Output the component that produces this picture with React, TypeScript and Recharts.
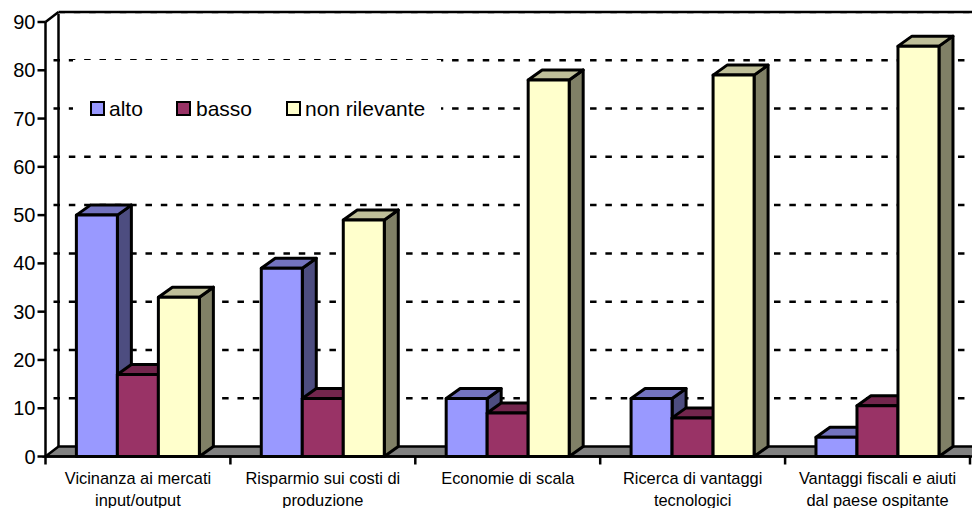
import React from "react";
import { BarChart, Bar, XAxis, YAxis, CartesianGrid, Legend } from "recharts";

const categoryLines: string[][] = [
  ["Vicinanza ai mercati", "input/output"],
  ["Risparmio sui costi di", "produzione"],
  ["Economie di scala"],
  ["Ricerca di vantaggi", "tecnologici"],
  ["Vantaggi fiscali e aiuti", "dal paese ospitante"],
];
const categories = categoryLines.map((l) => l.join(" "));
const alto = [50, 39, 12, 12, 4];
const basso = [17, 12, 9, 8, 10.5];
const nonRilevante = [33, 49, 78, 79, 85];
const yTicks = [0, 10, 20, 30, 40, 50, 60, 70, 80, 90];

const data = categories.map((name, i) => ({
  name,
  alto: alto[i],
  basso: basso[i],
  nonRilevante: nonRilevante[i],
}));

const FONT = '"Liberation Sans", Arial, sans-serif';
const W = 972;
const H = 508;
const LEFT = 45.5;
const RIGHT_EDGE = 970;
const TOP = 22;
const BOTTOM_Y = 456.5;
const DX = 13;
const DY = 10;
const SW = 2.5;
const BAR_SW = 3;
const BAND = (RIGHT_EDGE - LEFT) / categories.length;

type Colors = { front: string; top: string; side: string };
const colAlto: Colors = { front: "#9999FF", top: "#7373BF", side: "#4D4D80" };
const colBasso: Colors = { front: "#993366", top: "#73264D", side: "#4D1A33" };
const colNon: Colors = { front: "#FFFFCC", top: "#BFBF99", side: "#808066" };

const legendItems = [
  { label: "alto", color: colAlto.front, left: 90, text: 109 },
  { label: "basso", color: colBasso.front, left: 176, text: 196 },
  { label: "non rilevante", color: colNon.front, left: 286, text: 305 },
];

const bar3d = (c: Colors) => (p: any) => {
  const { x, y, width, height } = p;
  const dx = 14;
  const dy = 10;
  return (
    <g stroke="#000" strokeWidth={BAR_SW} strokeLinejoin="round">
      <polygon
        fill={c.side}
        points={`${x + width},${y} ${x + width + dx},${y - dy} ${x + width + dx},${y + height - dy} ${x + width},${y + height}`}
      />
      <polygon
        fill={c.top}
        points={`${x},${y} ${x + dx},${y - dy} ${x + width + dx},${y - dy} ${x + width},${y}`}
      />
      <rect x={x} y={y} width={width} height={height} fill={c.front} />
    </g>
  );
};

const XTick = (p: any) => {
  const { x, index } = p;
  const lines = categoryLines[index] ?? [];
  const left = x - BAND / 2;
  return (
    <g>
      <line x1={left} x2={left} y1={BOTTOM_Y} y2={BOTTOM_Y + 8} stroke="#000" strokeWidth={SW} />
      {index === categories.length - 1 && (
        <line x1={left + BAND} x2={left + BAND} y1={BOTTOM_Y} y2={BOTTOM_Y + 8} stroke="#000" strokeWidth={SW} />
      )}
      <text x={x} textAnchor="middle" fontFamily={FONT} fontSize={16.4} fill="#000">
        {lines.map((l: string, i: number) => (
          <tspan key={i} x={x} y={BOTTOM_Y + 27 + i * 22}>
            {l}
          </tspan>
        ))}
      </text>
    </g>
  );
};

// Back wall, floor and dashed level lines are offset by the 3D depth.
const gridLine = (p: any) => {
  const { y1, index } = p;
  const yy = y1 - DY;
  const isFloor = Math.abs(y1 - BOTTOM_Y) < 1;
  const isTop = Math.abs(y1 - TOP) < 1;
  if (isFloor) {
    return (
      <g key={`g-${index}`}>
        <polygon
          points={`${LEFT},${y1} ${LEFT + DX},${yy} ${W + 4},${yy} ${W + 4},${y1}`}
          fill="#808080"
          stroke="#000"
          strokeWidth={SW}
        />
        <line x1={LEFT + DX} x2={LEFT + DX} y1={yy} y2={TOP - DY} stroke="#000" strokeWidth={SW} />
        <line x1={LEFT} x2={LEFT + DX} y1={TOP} y2={TOP - DY} stroke="#000" strokeWidth={SW} />
      </g>
    );
  }
  if (isTop) {
    return (
      <g key={`g-${index}`}>
        <line x1={LEFT + DX} x2={W} y1={yy} y2={yy} stroke="#000" strokeWidth={SW} />
        <line x1={LEFT + DX} x2={W} y1={yy + 1.5} y2={yy + 1.5} stroke="#999" strokeWidth={1} strokeDasharray="6.5 8.83" />
      </g>
    );
  }
  return (
    <line
      key={`g-${index}`}
      x1={LEFT + DX - 5}
      x2={W}
      y1={yy}
      y2={yy}
      stroke="#000"
      strokeWidth={SW}
      strokeDasharray="6.5 8.83"
    />
  );
};

const LegendContent = () => (
  <div style={{ position: "relative", width: 368, height: 66, background: "#fff" }}>
    {legendItems.map((it) => (
      <React.Fragment key={it.label}>
        <div
          style={{
            position: "absolute",
            left: it.left - 73,
            top: 41,
            width: 11,
            height: 11,
            background: it.color,
            border: "2px solid #000",
          }}
        />
        <div
          style={{
            position: "absolute",
            left: it.text - 73,
            top: 37,
            fontFamily: FONT,
            fontSize: 21,
            lineHeight: "24px",
            color: "#000",
            whiteSpace: "nowrap",
          }}
        >
          {it.label}
        </div>
      </React.Fragment>
    ))}
  </div>
);

export default function App() {
  return (
    <div style={{ position: "absolute", left: 0, top: 0, width: W, height: H }}>
      <BarChart
        width={W}
        height={H}
        data={data}
        margin={{ top: TOP, right: W - RIGHT_EDGE, bottom: 0, left: 0 }}
        barCategoryGap="16.7%"
        barGap={0}
      >
        <CartesianGrid vertical={false} horizontal={gridLine as any} />
        <XAxis
          dataKey="name"
          interval={0}
          height={H - BOTTOM_Y}
          stroke="#000"
          strokeWidth={SW}
          tickLine={false}
          tick={<XTick />}
        />
        <YAxis
          domain={[0, 90]}
          ticks={yTicks}
          width={LEFT}
          stroke="#000"
          strokeWidth={SW}
          tickSize={8}
          tick={{ fontFamily: FONT, fontSize: 20, fill: "#000" }}
          interval={0}
        />
        <Legend
          layout="horizontal"
          verticalAlign="middle"
          align="center"
          content={<LegendContent />}
          wrapperStyle={{ position: "absolute", left: 73, top: 60, width: 368, height: 66, right: "auto", bottom: "auto" }}
        />
        <Bar dataKey="alto" isAnimationActive={false} fill={colAlto.front} shape={bar3d(colAlto)} />
        <Bar dataKey="basso" isAnimationActive={false} fill={colBasso.front} shape={bar3d(colBasso)} />
        <Bar dataKey="nonRilevante" name="non rilevante" isAnimationActive={false} fill={colNon.front} shape={bar3d(colNon)} />
      </BarChart>
    </div>
  );
}
